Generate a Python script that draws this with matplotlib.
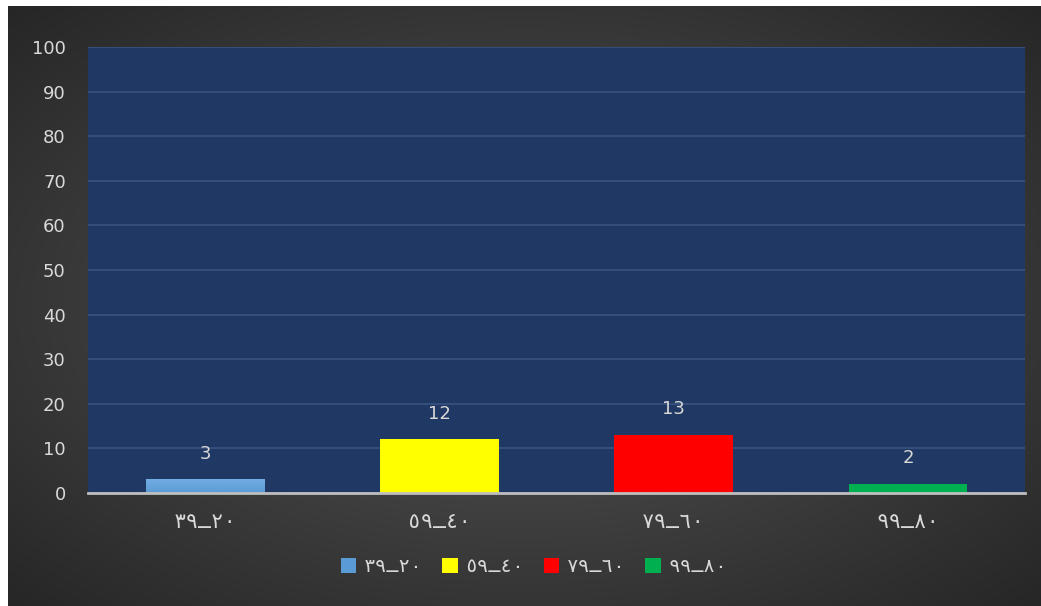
import numpy as np
import matplotlib
matplotlib.use('Agg')
import matplotlib.pyplot as plt
from matplotlib.patches import Patch

# categories in visual (left-to-right) order
categories = ['٣٩ـ٢٠', '٥٩ـ٤٠', '٧٩ـ٦٠', '٩٩ـ٨٠']
values = [3, 12, 13, 2]
bar_colors = ['#5B9BD5', '#FFFF00', '#FF0000', '#00B050']
y_ticks = [0, 10, 20, 30, 40, 50, 60, 70, 80, 90, 100]

plt.rcParams['font.family'] = ['DejaVu Sans']
txt_color = '#D9D9D9'
cat_font = ['DejaVu Sans Mono', 'DejaVu Sans']

fig = plt.figure(figsize=(10.41, 6.06), dpi=100)
fig.patch.set_facecolor('white')

# dark radial background
bg = fig.add_axes([8 / 1041, 0, 1 - 8 / 1041, 1 - 6 / 606])
yy, xx = np.mgrid[-1:1:300j, -1:1:500j]
r = np.sqrt(xx ** 2 + yy ** 2) / np.sqrt(2)
shade = 0.34 - 0.19 * r
img = np.dstack([shade, shade, shade])
bg.imshow(img, aspect='auto', extent=[0, 1, 0, 1], interpolation='bilinear')
bg.axis('off')

ax = fig.add_axes([88 / 1041, 113 / 606, 937 / 1041, 446 / 606])
ax.set_facecolor('#203864')
x = np.arange(len(categories))
bars = ax.bar(x, values, width=0.505, color=bar_colors, zorder=3)

# soft gradient on the first bar
b0 = bars[0]
grad = np.linspace(0, 1, 50).reshape(-1, 1)
ax.imshow(grad, cmap=matplotlib.colors.LinearSegmentedColormap.from_list('g', ['#5B9BD5', '#72ADE4']),
          extent=[b0.get_x(), b0.get_x() + b0.get_width(), 0, values[0]],
          aspect='auto', origin='lower', zorder=4)
bars[0].set_visible(False)

for xi, v in zip(x, values):
    ax.text(xi, v + 5.8, str(v), ha='center', va='center', color=txt_color, fontsize=13, zorder=5)

ax.set_xlim(-0.5, len(categories) - 0.5)
ax.set_ylim(0, 100)
ax.set_yticks(y_ticks)
ax.yaxis.grid(True, color='#3B5382', linewidth=1.2, zorder=1)
ax.set_axisbelow(True)
ax.set_xticks(x)
ax.set_xticklabels(categories, family=cat_font)
ax.tick_params(axis='y', colors=txt_color, labelsize=13, length=0, pad=16)
ax.tick_params(axis='x', colors=txt_color, labelsize=15, length=0, pad=14)
for s in ['top', 'right', 'left']:
    ax.spines[s].set_visible(False)
ax.spines['bottom'].set_color('#BFBFBF')
ax.spines['bottom'].set_linewidth(2)
ax.spines['bottom'].set_zorder(6)

handles = [Patch(facecolor=c, label=l) for c, l in zip(bar_colors, categories)]
leg = fig.legend(handles=handles, loc='center', bbox_to_anchor=(534 / 1041, 1 - 567 / 606),
                 ncol=4, frameon=False, prop={'family': cat_font, 'size': 14},
                 handlelength=0.8, handleheight=0.8,
                 handletextpad=0.4, columnspacing=1.0)
for t in leg.get_texts():
    t.set_color(txt_color)

fig.savefig('out.png', dpi=100)
